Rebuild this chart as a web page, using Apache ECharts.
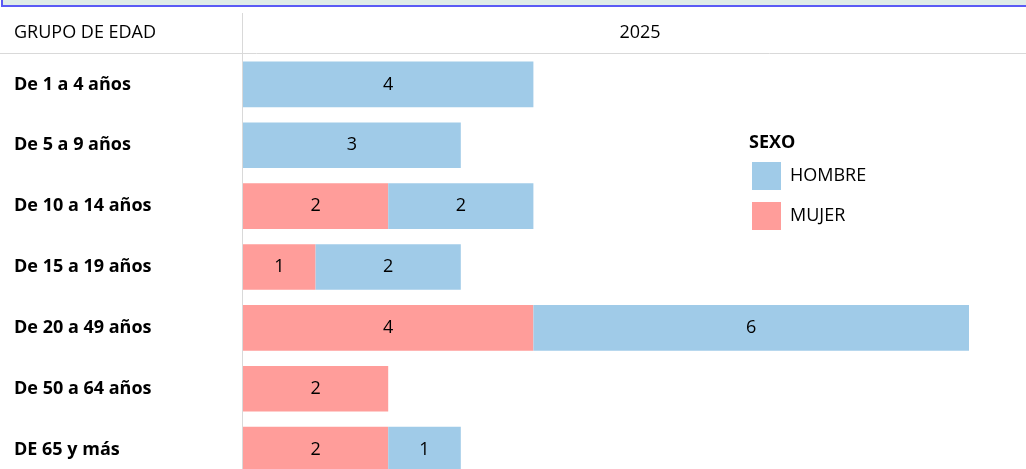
<!DOCTYPE html>
<html>
<head>
<meta charset="utf-8">
<script src="https://cdn.jsdelivr.net/npm/echarts@6/dist/echarts.min.js"></script>
<style>
  html, body { margin: 0; padding: 0; background: #fff; }
  #chart { width: 1026px; height: 469px; }
</style>
</head>
<body>
<div id="chart"></div>
<script>
// grupos de edad y valores por sexo (2025)
const gruposEdad = ['De 1 a 4 años', 'De 5 a 9 años', 'De 10 a 14 años', 'De 15 a 19 años',
  'De 20 a 49 años', 'De 50 a 64 años', 'DE 65 y más'];
const mujer = [null, null, 2, 1, 4, 2, 2];
const hombre = [4, 3, 2, 2, 6, null, 1];
const anio = '2025';

const fuente = '"Open Sans", "Noto Sans", sans-serif';
const tam = 18;
const chart = echarts.init(document.getElementById('chart'));

const etiqueta = {
  show: true,
  position: 'inside',
  color: '#000',
  fontSize: tam,
  fontFamily: fuente
};

chart.setOption({
  animation: false,
  grid: { left: 243, top: 54, width: 726, height: 426, outerBoundsMode: 'none' },
  xAxis: {
    type: 'value',
    min: 0,
    max: 10,
    show: false
  },
  yAxis: {
    type: 'category',
    data: gruposEdad,
    inverse: true,
    axisLine: { show: false },
    axisTick: { show: false },
    axisLabel: {
      align: 'left',
      margin: 229,
      color: '#000',
      fontWeight: 'bold',
      fontSize: tam,
      fontFamily: fuente
    }
  },
  legend: {
    data: ['HOMBRE', 'MUJER'],
    orient: 'vertical',
    left: 752,
    top: 162,
    padding: 0,
    itemWidth: 29,
    itemHeight: 28,
    itemGap: 12,
    icon: 'rect',
    textStyle: { color: '#000', fontSize: tam, fontFamily: fuente, padding: [0, 0, 0, 4] }
  },
  series: [
    {
      name: 'MUJER',
      type: 'bar',
      stack: 'total',
      barCategoryGap: '25%',
      itemStyle: { color: '#FF9D9A' },
      label: etiqueta,
      data: mujer
    },
    {
      name: 'HOMBRE',
      type: 'bar',
      stack: 'total',
      barCategoryGap: '25%',
      itemStyle: { color: '#A0CBE8' },
      label: etiqueta,
      data: hombre
    }
  ],
  graphic: [
    // recuadro del título cortado arriba
    { type: 'rect', shape: { x: 2, y: -20, width: 1040, height: 26 },
      style: { fill: '#DFECE8', stroke: '#5B5BF5', lineWidth: 2 } },
    // líneas de la cabecera
    { type: 'line', shape: { x1: 0, y1: 53.5, x2: 1026, y2: 53.5 },
      style: { stroke: '#D9D9D9', lineWidth: 1 } },
    { type: 'line', shape: { x1: 242.5, y1: 13, x2: 242.5, y2: 469 },
      style: { stroke: '#D9D9D9', lineWidth: 1 }, z: 10 },
    { type: 'text', x: 14, y: 33,
      style: { text: 'GRUPO DE EDAD', fill: '#000', fontSize: tam, fontFamily: fuente, verticalAlign: 'middle' } },
    { type: 'text', x: 640, y: 33,
      style: { text: anio, fill: '#000', fontSize: tam, fontFamily: fuente, align: 'center', verticalAlign: 'middle' } },
    { type: 'text', x: 749, y: 143,
      style: { text: 'SEXO', fill: '#000', fontSize: tam, fontWeight: 'bold', fontFamily: fuente, verticalAlign: 'middle' } }
  ]
});
</script>
</body>
</html>
